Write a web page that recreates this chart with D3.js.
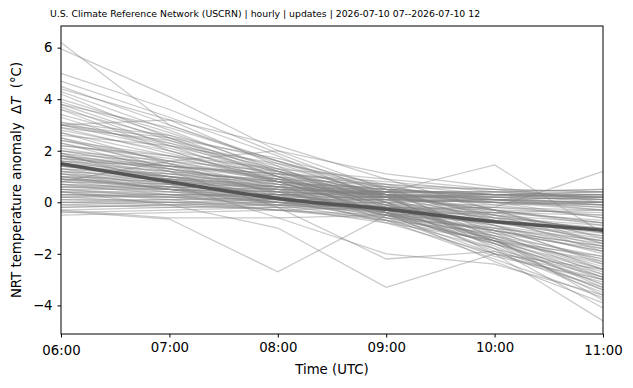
<!DOCTYPE html>
<html>
<head>
<meta charset="utf-8">
<script src="https://cdn.jsdelivr.net/npm/d3@7"></script>
<style>
  body { margin: 0; background: #fff; }
  svg { font-family: "DejaVu Sans", sans-serif; }
  .ylabel { white-space: pre; }
</style>
</head>
<body>
<svg id="chart" width="633" height="388"></svg>
<script>
// hourly time steps (UTC)
var hours = ["06:00", "07:00", "08:00", "09:00", "10:00", "11:00"];

// ensemble mean anomaly (thick line)
var meanAnomaly = [1.5, 0.8, 0.15, -0.27, -0.75, -1.08];

// per-station anomalies, one row per station, values at each hour
var stationAnomalies = [
  [6.2, 3.0, 1.6, 0.2, -1.5, -3.2],
  [5.95, 4.1, 2.0, 0.5, -1.4, -3.8],
  [5.0, 3.6, 1.9, 0.3, -1.8, -4.1],
  [4.7, 3.3, 1.8, 0.0, -2.0, -4.6],
  [4.5, 3.0, 1.5, 0.2, -1.6, -3.6],
  [4.4, 3.2, 1.4, -0.4, -2.3, -3.9],
  [4.3, 2.8, 1.2, -0.2, -1.7, -3.4],
  [4.2, 2.5, 1.0, -0.6, -2.1, -3.0],
  [4.0, 2.7, 1.3, 0.0, -1.5, -3.3],
  [3.9, 2.6, 1.1, -0.3, -1.9, -3.5],
  [3.8, 2.4, 1.0, -0.5, -2.0, -3.1],
  [3.8, 2.9, 1.6, 0.4, -1.2, -2.8],
  [3.7, 2.2, 0.8, -0.4, -1.6, -2.9],
  [3.6, 2.5, 1.2, 0.0, -1.3, -2.6],
  [3.6, 2.0, 0.7, -0.7, -2.2, -3.7],
  [3.4, 2.3, 1.0, -0.1, -1.5, -3.0],
  [3.3, 2.0, 0.8, -0.4, -1.8, -3.4],
  [3.1, 2.2, 1.2, 0.3, -0.5, -1.1],
  [3.0, 3.2, 2.2, 0.9, -0.3, -1.6],
  [3.1, 2.6, 1.6, 0.5, -0.6, -1.9],
  [3.0, 2.5, 1.7, 0.6, -0.9, -2.4],
  [3.0, 2.3, 1.3, 0.2, -1.1, -2.6],
  [3.0, 2.1, 1.0, -0.1, -1.4, -2.9],
  [2.9, 2.4, 1.4, 0.3, -0.7, -1.7],
  [2.9, 1.9, 0.9, -0.2, -1.2, -2.2],
  [2.8, 2.0, 1.2, 0.1, -1.0, -2.3],
  [2.7, 1.8, 0.8, -0.3, -1.5, -2.7],
  [2.7, 1.5, 0.3, -0.8, -2.0, -3.3],
  [2.6, 2.2, 1.5, 0.7, -0.3, -1.4],
  [2.5, 1.6, 0.9, 0.0, -0.9, -2.0],
  [2.5, 1.3, 0.4, -0.5, -1.6, -3.2],
  [2.4, 1.8, 1.1, 0.4, -0.5, -1.6],
  [2.4, 1.6, 0.8, 0.2, -0.3, -0.8],
  [2.3, 1.5, 0.6, -0.4, -1.3, -2.5],
  [2.3, 1.2, -0.2, -2.2, -1.9, -3.0],
  [2.2, 1.7, 1.0, 0.3, -0.4, -1.2],
  [2.2, 1.8, 1.3, 0.9, 0.5, 0.1],
  [2.1, 1.4, 0.5, -0.5, -1.6, -2.8],
  [2.0, 1.6, 1.2, 0.6, 0.0, -0.6],
  [2.0, 1.3, 0.7, 0.1, -0.7, -1.5],
  [2.0, 1.4, 0.9, 0.5, 0.2, -0.1],
  [1.9, 1.5, 0.9, 0.2, -0.6, -1.3],
  [1.9, 1.2, 0.4, -0.4, -1.4, -2.4],
  [1.9, 0.7, -0.6, -2.0, -2.4, -3.6],
  [1.8, 1.4, 1.0, 0.6, 0.1, -0.3],
  [1.8, 1.1, 0.6, -0.1, -0.9, -1.8],
  [1.8, 1.0, 0.2, -0.5, -1.3, -2.1],
  [1.8, 1.3, 0.7, 0.2, -0.2, -0.5],
  [1.7, 1.3, 0.8, 0.3, -0.3, -0.9],
  [1.7, 0.9, 0.2, -0.6, -1.5, -2.3],
  [1.7, 1.4, 1.1, 0.8, 0.4, 0.2],
  [1.6, 1.4, 1.1, 0.7, 0.3, 0.0],
  [1.6, 1.0, 0.5, 0.0, -0.5, -1.1],
  [1.6, 1.2, 0.8, 0.5, 0.3, 0.2],
  [1.5, 1.2, 0.8, 0.4, -0.1, -0.6],
  [1.5, 0.8, 0.1, -0.7, -1.8, -2.9],
  [1.5, 1.0, 0.4, -0.3, -1.1, -1.9],
  [1.4, 1.1, 0.7, 0.4, 0.1, -0.2],
  [1.4, 0.9, 0.3, -0.2, -0.8, -1.4],
  [1.4, 1.0, 0.6, 0.3, 0.2, 0.3],
  [1.3, 1.0, 0.6, 0.2, -0.3, -0.8],
  [1.3, 0.7, 0.2, -0.4, -1.1, -1.9],
  [1.3, 1.1, 0.9, 0.7, 0.5, 0.4],
  [1.2, 1.0, 0.8, 0.5, 0.3, 0.1],
  [1.2, 0.6, 0.0, -0.6, -1.4, -2.2],
  [1.2, 0.9, 0.5, 0.3, 0.1, 0.0],
  [1.1, 0.9, 0.6, 0.3, 0.0, -0.3],
  [1.1, 0.5, -0.1, -0.7, -1.5, -2.6],
  [1.1, 0.7, 0.3, -0.1, -0.6, -0.9],
  [1.0, 0.8, 0.5, 0.3, 0.1, -0.1],
  [1.0, 0.5, 0.2, -0.3, -0.9, -1.5],
  [1.0, 0.9, 0.7, 0.6, 0.5, 0.4],
  [1.0, 0.5, 0.0, -0.3, -0.2, 1.2],
  [0.9, 0.8, 0.6, 0.5, 0.3, 0.2],
  [0.9, 0.6, 0.2, -0.2, -0.7, -1.2],
  [0.9, 0.5, 0.1, -0.4, -1.0, -1.6],
  [0.9, 0.7, 0.4, 0.2, 0.0, -0.2],
  [0.8, 1.6, 2.0, 1.1, 0.6, 0.0],
  [0.8, 0.7, 0.6, 0.4, 0.4, 0.3],
  [0.8, 0.4, 0.0, -0.5, -1.1, -1.7],
  [0.8, 0.6, 0.5, 0.4, 0.3, 0.2],
  [0.7, 0.6, 0.4, 0.2, 0.1, 0.0],
  [0.7, 0.3, -0.2, -0.8, -1.5, -2.1],
  [0.7, 0.5, 0.3, 0.1, 0.0, -0.1],
  [0.6, 0.5, 0.4, 0.3, 0.3, 0.4],
  [0.6, 0.4, 0.1, -0.2, -0.6, -1.0],
  [0.6, 0.6, 0.5, 0.4, 0.4, 0.5],
  [0.5, 0.5, 0.4, 0.4, 0.3, 0.3],
  [0.5, 0.2, -0.1, -0.4, -0.8, -1.3],
  [0.5, 0.3, 0.0, -0.3, -0.7, -1.0],
  [0.4, 0.4, 0.3, 0.2, 0.2, 0.1],
  [0.4, 0.1, -0.3, -0.7, -1.2, -1.8],
  [0.4, 0.3, 0.2, 0.2, 0.3, 0.3],
  [0.4, -0.1, -1.0, -3.3, -2.0, -2.6],
  [0.3, 0.3, 0.3, 0.4, 0.4, 0.5],
  [0.3, 0.2, 0.0, -0.2, -0.4, -0.7],
  [0.3, 0.2, 0.3, 0.4, 1.45, -1.2],
  [0.2, 0.2, 0.1, 0.1, 0.0, -0.1],
  [0.2, 0.0, -0.3, -0.6, -1.0, -1.5],
  [0.2, 0.3, 0.3, 0.3, 0.2, 0.1],
  [0.1, 0.1, 0.2, 0.2, 0.3, 0.4],
  [0.1, 0.0, -0.1, -0.3, -0.5, -0.8],
  [0.0, 0.1, 0.1, 0.2, 0.2, 0.3],
  [0.0, -0.1, -0.3, -0.5, -0.8, -1.1],
  [0.0, 0.0, 0.1, 0.1, 0.0, 0.0],
  [-0.1, 0.0, 0.0, 0.1, 0.1, 0.2],
  [-0.1, -0.2, -0.2, -0.3, -0.4, -0.5],
  [-0.2, -0.1, 0.0, 0.0, 0.1, 0.0],
  [-0.2, -0.1, -0.1, -0.2, -0.3, -0.4],
  [-0.3, -0.2, -0.1, 0.0, 0.1, 0.2],
  [-0.35, -0.65, -2.7, -0.5, -1.1, -1.7],
  [-0.3, -0.6, -0.6, -0.5, -0.4, -0.3],
  [-0.4, -0.3, -0.2, -0.1, -0.1, 0.0],
  [-0.5, -0.4, -0.3, -0.2, -0.2, -0.3]
];

var yTicks = [-4, -2, 0, 2, 4, 6];
var titleText = "U.S. Climate Reference Network (USCRN) | hourly | updates | 2026-07-10 07--2026-07-10 12";

var svg = d3.select("#chart");
var margin = {top: 26, right: 30, bottom: 54, left: 61};
var width = 633 - margin.left - margin.right,
    height = 388 - margin.top - margin.bottom;

var times = hours.map(function(h) { return new Date("2026-07-10T" + h + ":00Z"); });

var x = d3.scaleUtc().domain([times[0], times[times.length - 1]]).range([0, width]);
var y = d3.scaleLinear().domain([-5.11, 6.84]).range([height, 0]);

var g = svg.append("g").attr("transform", "translate(" + margin.left + "," + margin.top + ")");

var line = d3.line()
  .x(function(d, i) { return x(times[i]); })
  .y(function(d) { return y(d); });

g.append("g").selectAll("path")
  .data(stationAnomalies)
  .join("path")
  .attr("d", line)
  .attr("fill", "none")
  .attr("stroke", "#808080")
  .attr("stroke-opacity", 0.42)
  .attr("stroke-width", 1.25);

g.append("path")
  .datum(meanAnomaly)
  .attr("d", line.curve(d3.curveMonotoneX))
  .attr("fill", "none")
  .attr("stroke", "#555555")
  .attr("stroke-width", 3.5);

// frame
g.append("rect")
  .attr("width", width).attr("height", height)
  .attr("fill", "none").attr("stroke", "#000").attr("stroke-width", 1);

var xAxis = g.append("g")
  .attr("transform", "translate(0," + height + ")")
  .call(d3.axisBottom(x).tickValues(times).tickFormat(d3.utcFormat("%H:%M")).tickSize(3.5).tickPadding(5));
xAxis.select(".domain").remove();
xAxis.selectAll("text").attr("font-size", 13.3).attr("font-family", "DejaVu Sans").attr("fill", "#000")
  .attr("dy", function(d, i) { return (i === 0 || i === times.length - 1) ? "0.93em" : "0.75em"; });

var yAxis = g.append("g")
  .call(d3.axisLeft(y).tickValues(yTicks).tickFormat(function(d) { return d < 0 ? "\u2212" + Math.abs(d) : d; }).tickSize(3.5).tickPadding(5));
yAxis.select(".domain").remove();
yAxis.selectAll("text").attr("font-size", 13.3).attr("font-family", "DejaVu Sans").attr("fill", "#000");

svg.append("text")
  .attr("x", margin.left + width / 2).attr("y", 374)
  .attr("text-anchor", "middle").attr("font-size", 13.3)
  .text("Time (UTC)");

var yl = svg.append("text")
  .attr("class", "ylabel")
  .attr("transform", "translate(21," + (margin.top + height / 2) + ") rotate(-90)")
  .attr("text-anchor", "middle").attr("font-size", 13.3);
yl.append("tspan").text("NRT temperature anomaly  \u0394");
yl.append("tspan").attr("font-style", "italic").text("T");
yl.append("tspan").text("  (\u00b0C)");

svg.append("text")
  .attr("x", 265).attr("y", 17)
  .attr("text-anchor", "middle").attr("font-size", 9.3)
  .text(titleText);
</script>
</body>
</html>
